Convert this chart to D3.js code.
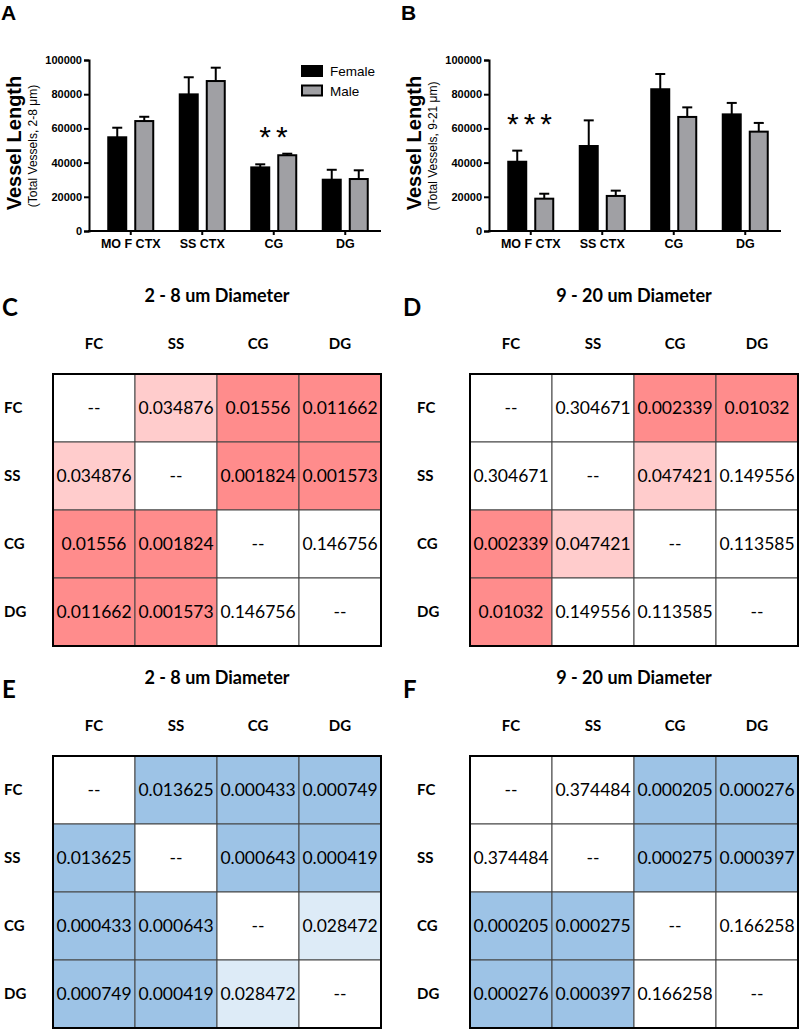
<!DOCTYPE html>
<html><head><meta charset="utf-8">
<script src="https://cdn.jsdelivr.net/npm/d3@7"></script>
<style>body{margin:0;background:#fff}svg{display:block}</style>
</head><body>
<svg id="chart" width="800" height="1030"></svg>
<script>
// ---------- data ----------
const regions = ["MO F CTX", "SS CTX", "CG", "DG"];
const yTicks = [0, 20000, 40000, 60000, 80000, 100000];
const seriesNames = ["Female", "Male"];
// Panel A (2-8 um)
const femaleA = [54800, 79900, 37200, 30000];
const femaleAErr = [5600, 10000, 1800, 5800];
const maleA = [64300, 87700, 44300, 30400];
const maleAErr = [2500, 7800, 900, 5100];
// Panel B (9-21 um)
const femaleB = [40500, 49700, 82900, 68200];
const femaleBErr = [6500, 15000, 8900, 6700];
const maleB = [18900, 20500, 66700, 58100];
const maleBErr = [2900, 3100, 5600, 5100];
// heatmaps
const areas = ["FC", "SS", "CG", "DG"];
const pC = [[null, 0.034876, 0.01556, 0.011662],
            [0.034876, null, 0.001824, 0.001573],
            [0.01556, 0.001824, null, 0.146756],
            [0.011662, 0.001573, 0.146756, null]];
const pD = [[null, 0.304671, 0.002339, 0.01032],
            [0.304671, null, 0.047421, 0.149556],
            [0.002339, 0.047421, null, 0.113585],
            [0.01032, 0.149556, 0.113585, null]];
const pE = [[null, 0.013625, 0.000433, 0.000749],
            [0.013625, null, 0.000643, 0.000419],
            [0.000433, 0.000643, null, 0.028472],
            [0.000749, 0.000419, 0.028472, null]];
const pF = [[null, 0.374484, 0.000205, 0.000276],
            [0.374484, null, 0.000275, 0.000397],
            [0.000205, 0.000275, null, 0.166258],
            [0.000276, 0.000397, 0.166258, null]];

const svg = d3.select("#chart");
const ARIAL = "'Liberation Sans', Arial, sans-serif";
const HUM = "Lato, 'Open Sans', sans-serif";

// ---------- bar charts ----------
function barPanel(ox, letter, female, fErr, male, mErr, subtitle, stars, starY, legend) {
  const g = svg.append("g").attr("transform", `translate(${ox},0)`);
  const y = d3.scaleLinear().domain([0, 100000]).range([231, 60]);
  const x0 = d3.scaleBand().domain(regions).range([95, 381]).padding(0);
  const x1 = d3.scaleBand().domain(seriesNames).range([-23.5, 23.5]).paddingInner(0.26);
  const fill = d3.scaleOrdinal().domain(seriesNames).range(["#000000", "#a0a0a4"]);

  g.append("text").attr("x", 1).attr("y", 20).text(letter)
    .attr("font-family", ARIAL).attr("font-weight", "bold").attr("font-size", 21);

  const data = regions.map((r, i) => [
    {r, s: "Female", v: female[i], e: fErr[i]},
    {r, s: "Male", v: male[i], e: mErr[i]}]).flat();
  const cxOf = d => x0(d.r) + x0.bandwidth()/2 + x1(d.s) + x1.bandwidth()/2;

  // error bars (upper only)
  const eb = g.selectAll(".eb").data(data).join("g");
  eb.append("line")
    .attr("x1", cxOf).attr("x2", cxOf)
    .attr("y1", d => y(d.v)).attr("y2", d => y(d.v + d.e))
    .attr("stroke", "#000").attr("stroke-width", 2);
  eb.append("line")
    .attr("x1", d => cxOf(d) - 5).attr("x2", d => cxOf(d) + 5)
    .attr("y1", d => y(d.v + d.e)).attr("y2", d => y(d.v + d.e))
    .attr("stroke", "#000").attr("stroke-width", 2);

  g.selectAll(".bar").data(data).join("rect")
    .attr("x", d => x0(d.r) + x0.bandwidth()/2 + x1(d.s) + 1)
    .attr("width", x1.bandwidth() - 2)
    .attr("y", d => y(d.v))
    .attr("height", d => y(0) - y(d.v))
    .attr("fill", d => fill(d.s)).attr("stroke", "#000").attr("stroke-width", 2);

  // y axis
  const ya = g.append("g").attr("transform", "translate(89,0)")
    .call(d3.axisLeft(y).tickValues(yTicks).tickSize(5).tickPadding(2).tickFormat(d3.format("d")));
  ya.select(".domain").attr("stroke-width", 2);
  ya.selectAll(".tick line").attr("stroke-width", 2);
  ya.selectAll("text").attr("font-family", ARIAL).attr("font-weight", "bold").attr("font-size", 11).attr("fill", "#000");

  // x axis
  const xa = g.append("g").attr("transform", "translate(0,231)")
    .call(d3.axisBottom(x0).tickSize(4).tickPadding(4));
  xa.select(".domain").remove();
  xa.append("line").attr("x1", 88).attr("x2", 381).attr("stroke", "#000").attr("stroke-width", 2);
  xa.selectAll(".tick line").attr("stroke-width", 2);
  xa.selectAll("text").attr("font-family", ARIAL).attr("font-weight", "bold").attr("font-size", 12.5).attr("fill", "#000");

  // y titles
  g.append("text").attr("transform", "translate(21,143) rotate(-90)")
    .attr("text-anchor", "middle").text("Vessel Length")
    .attr("font-family", ARIAL).attr("font-weight", "bold").attr("font-size", 20);
  g.append("text").attr("transform", "translate(37,146) rotate(-90)")
    .attr("text-anchor", "middle").text(subtitle)
    .attr("font-family", ARIAL).attr("font-size", 12);

  // significance
  g.append("text").attr("x", stars.x).attr("y", starY).text(stars.t)
    .attr("text-anchor", "middle").attr("letter-spacing", 5)
    .attr("font-family", ARIAL).attr("font-size", 30);

  if (legend) {
    const lg = g.append("g");
    seriesNames.forEach((s, i) => {
      lg.append("rect").attr("x", 302).attr("y", 66 + i * 19.5).attr("width", 20).attr("height", 10)
        .attr("fill", fill(s)).attr("stroke", "#000").attr("stroke-width", 2);
      lg.append("text").attr("x", 330).attr("y", 76 + i * 19.5).text(s)
        .attr("font-family", ARIAL).attr("font-size", 13.5);
    });
  }
}

barPanel(0, "A", femaleA, femaleAErr, maleA, maleAErr, "(Total Vessels, 2-8 \u03bcm)", {x: 276, t: "**"}, 147, true);
barPanel(400, "B", femaleB, femaleBErr, maleB, maleBErr, "(Total Vessels, 9-21 \u03bcm)", {x: 132, t: "***"}, 134, false);

// ---------- heatmaps ----------
function heatPanel(letter, title, p, gridX, gridY, labelX, letterX, palette) {
  const g = svg.append("g");
  const col = d3.scaleThreshold().domain([0.02, 0.05]).range([palette[0], palette[1], "#ffffff"]);
  const cx = d3.scaleBand().domain(areas).range([gridX, gridX + 328]);
  const cy = d3.scaleBand().domain(areas).range([gridY, gridY + 272]);

  g.append("text").attr("x", letterX).attr("y", gridY - 58).text(letter)
    .attr("font-family", HUM).attr("font-weight", "bold").attr("font-size", 24);
  g.append("text").attr("x", gridX + 164).attr("y", gridY - 72).text(title)
    .attr("text-anchor", "middle")
    .attr("font-family", HUM).attr("font-weight", "bold").attr("font-size", 18);

  g.selectAll(".ch").data(areas).join("text")
    .attr("x", d => cx(d) + cx.bandwidth()/2).attr("y", gridY - 25)
    .attr("text-anchor", "middle").text(d => d)
    .attr("font-family", HUM).attr("font-weight", "bold").attr("font-size", 15);
  g.selectAll(".rh").data(areas).join("text")
    .attr("x", labelX).attr("y", d => cy(d) + cy.bandwidth()/2 + 5)
    .text(d => d)
    .attr("font-family", HUM).attr("font-weight", "bold").attr("font-size", 15);

  const cells = [];
  areas.forEach((r, i) => areas.forEach((c, j) => cells.push({r, c, v: p[i][j]})));
  g.selectAll(".cell").data(cells).join("rect")
    .attr("x", d => cx(d.c)).attr("y", d => cy(d.r))
    .attr("width", cx.bandwidth()).attr("height", cy.bandwidth())
    .attr("fill", d => d.v === null ? "#ffffff" : col(d.v))
    .attr("stroke", "#444").attr("stroke-width", 1);
  g.selectAll(".val").data(cells).join("text")
    .attr("x", d => cx(d.c) + cx.bandwidth()/2).attr("y", d => cy(d.r) + cy.bandwidth()/2 + 6)
    .attr("text-anchor", "middle")
    .text(d => d.v === null ? "--" : String(d.v))
    .attr("font-family", HUM).attr("font-size", 17.5).attr("fill", "#000");
  g.append("rect").attr("x", gridX).attr("y", gridY).attr("width", 328).attr("height", 272)
    .attr("fill", "none").attr("stroke", "#000").attr("stroke-width", 2);
}

const reds = ["#ff8c8c", "#ffcccc"];
const blues = ["#9dc3e6", "#ddebf7"];
heatPanel("C", "2 - 8 um Diameter", pC, 53, 374, 4, 2, reds);
heatPanel("D", "9 - 20 um Diameter", pD, 470, 374, 417, 403, reds);
heatPanel("E", "2 - 8 um Diameter", pE, 53, 756, 4, 2, blues);
heatPanel("F", "9 - 20 um Diameter", pF, 470, 756, 417, 403, blues);
</script>
</body></html>
